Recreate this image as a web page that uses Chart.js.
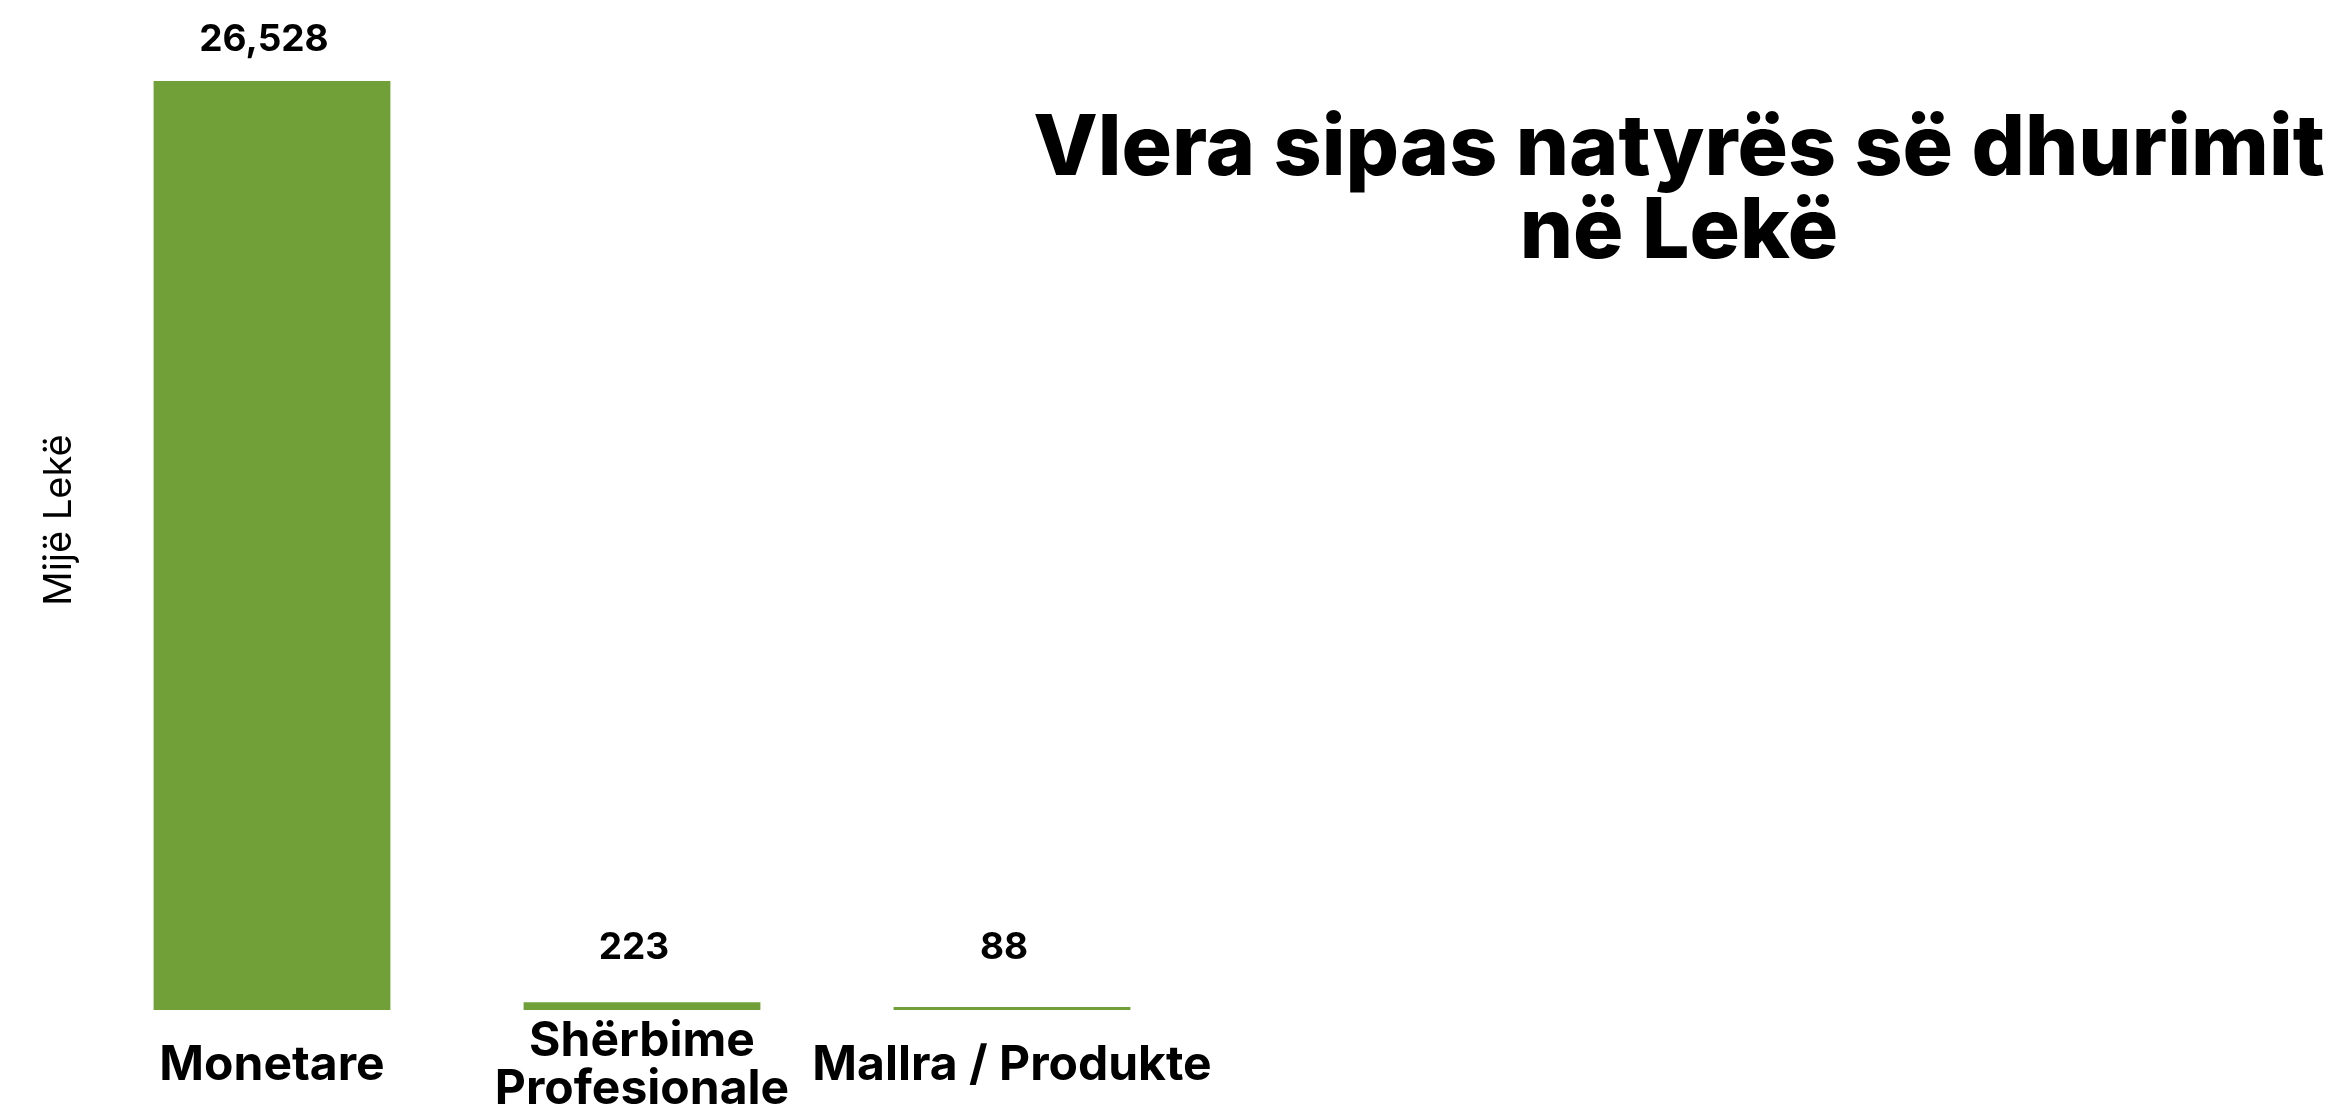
<!DOCTYPE html>
<html>
<head>
<meta charset="utf-8">
<script src="https://cdn.jsdelivr.net/npm/chart.js@4"></script>
<style>
  html, body { margin: 0; padding: 0; background: #fff; }
  #wrap { width: 2342px; height: 1120px; position: relative; }
</style>
</head>
<body>
<div id="wrap"><canvas id="chart"></canvas></div>
<script>
// ---- data ----
const categories = ['Monetare', ['Shërbime', 'Profesionale'], 'Mallra / Produkte'];
const values = [26528, 223, 88];
const titleLines = ['Vlera sipas natyrës së dhurimit', 'në Lekë'];
const yTitle = 'Mijë Lekë';

const GREEN = '#70a037';
const FONT = 'Inter, "Open Sans", sans-serif';

// etiketa vlerash sipër shtyllave
const valueLabels = {
  id: 'valueLabels',
  afterDatasetsDraw(chart) {
    const { ctx } = chart;
    const meta = chart.getDatasetMeta(0);
    const base = chart.scales.y.getPixelForValue(0);
    ctx.save();
    ctx.font = `700 37px ${FONT}`;
    ctx.fillStyle = '#000';
    ctx.textAlign = 'center';
    ctx.textBaseline = 'middle';
    meta.data.forEach((bar, i) => {
      const y = Math.min(bar.y - 41, base - 62);
      ctx.fillText(values[i].toLocaleString('en-US'), bar.x - 8, y);
    });
    ctx.restore();
  }
};

// titulli në anën e djathtë + titulli i boshtit y
const sideTitle = {
  id: 'sideTitle',
  afterDraw(chart) {
    const { ctx } = chart;
    ctx.save();
    ctx.font = `800 84px ${FONT}`;
    ctx.fillStyle = '#000';
    ctx.textAlign = 'center';
    ctx.textBaseline = 'middle';
    titleLines.forEach((line, i) => ctx.fillText(line, 1679, 150 + i * 83));

    ctx.translate(60, 520);
    ctx.rotate(-Math.PI / 2);
    ctx.font = `400 38px ${FONT}`;
    ctx.fillText(yTitle, 0, 0);
    ctx.restore();
  }
};

new Chart(document.getElementById('chart'), {
  type: 'bar',
  data: {
    labels: categories,
    datasets: [{
      data: values,
      backgroundColor: GREEN,
      categoryPercentage: 0.8,
      barPercentage: 0.8,
    }],
  },
  options: {
    responsive: true,
    maintainAspectRatio: false,
    animation: false,
    layout: { padding: { top: 81, right: 1145, left: 20, bottom: 0 } },
    plugins: { legend: { display: false }, tooltip: { enabled: false } },
    scales: {
      x: {
        grid: { display: false },
        border: { display: false },
        ticks: {
          color: '#000',
          font: { family: FONT, size: 48, weight: '700', lineHeight: 1.0 },
          crossAlign: 'center',
          padding: 24,
          autoSkip: false,
          minRotation: 0,
          maxRotation: 0,
        },
        afterFit(scale) { scale.height = 110; },
      },
      y: {
        min: 0,
        max: Math.max(...values),
        grid: { display: false },
        border: { display: false },
        ticks: { display: false },
        afterFit(scale) { scale.width = 67; },
      },
    },
  },
  plugins: [valueLabels, sideTitle],
});
</script>
</body>
</html>
